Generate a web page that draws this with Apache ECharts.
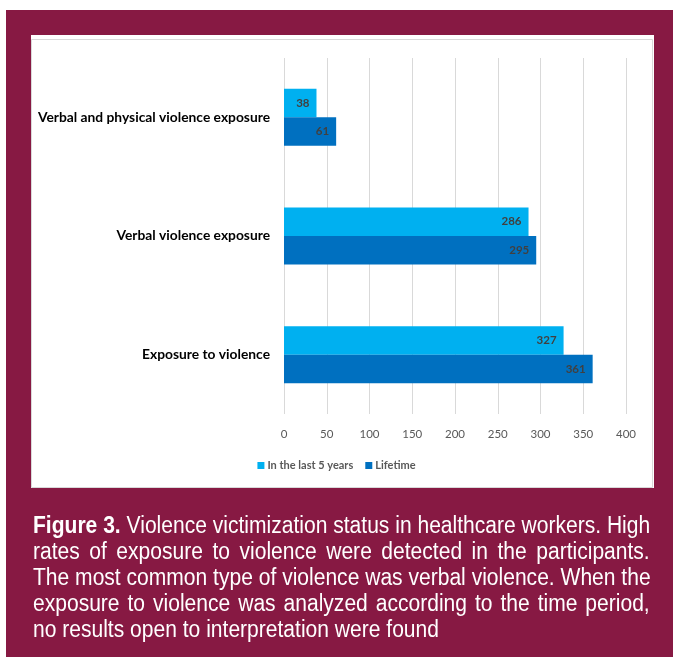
<!DOCTYPE html>
<html>
<head>
<meta charset="utf-8">
<script src="https://cdn.jsdelivr.net/npm/echarts@6/dist/echarts.min.js"></script>
<style>
  html, body { margin: 0; padding: 0; background: #ffffff; }
  #frame { position: absolute; left: 6px; top: 10px; width: 667px; height: 647px; background: #871943; }
  #panel { position: absolute; left: 31px; top: 35px; width: 623px; height: 453px; background: #ffffff; }
  #chart { position: absolute; left: 0; top: 0; width: 673px; height: 657px; }
  #caption {
    position: absolute; left: 33px; top: 512px; width: 674px;
    transform: scaleX(0.915); transform-origin: 0 0;
    color: #ffffff; font-family: "Liberation Sans", Arial, sans-serif;
    font-size: 23px; line-height: 26px;
  }
  #caption .ln { text-align: justify; text-align-last: justify; white-space: nowrap; }
  #caption .ln.last { text-align-last: left; }
  #caption b { font-weight: bold; }
</style>
</head>
<body>
<div id="frame"></div>
<div id="panel"></div>
<div id="chart"></div>
<div id="caption">
  <div class="ln"><b>Figure 3.</b> Violence victimization status in healthcare workers. High</div>
  <div class="ln">rates of exposure to violence were detected in the participants.</div>
  <div class="ln">The most common type of violence was verbal violence. When the</div>
  <div class="ln">exposure to violence was analyzed according to the time period,</div>
  <div class="ln last">no results open to interpretation were found</div>
</div>
<script>
// Categories listed bottom to top, as the category axis draws them
const categories = ['Exposure to violence', 'Verbal violence exposure', 'Verbal and physical violence exposure'];
const last5Years = [327, 286, 38];
const lifetime = [361, 295, 61];
const seriesNames = ['In the last 5 years', 'Lifetime'];
const xTicks = [0, 50, 100, 150, 200, 250, 300, 350, 400];

const chart = echarts.init(document.getElementById('chart'));
const labelStyle = {
  show: true, position: 'insideRight', distance: 7,
  color: '#404040', fontWeight: 'bold', fontSize: 11.5, fontFamily: 'Lato'
};
chart.setOption({
  animation: false,
  graphic: [{
    type: 'rect', shape: { x: 31.5, y: 39.5, width: 621, height: 448 },
    style: { fill: null, stroke: '#d9d9d9', lineWidth: 1 }, z: -1
  }],
  grid: { left: 284, right: 47, top: 58, bottom: 243 },
  legend: {
    data: seriesNames, bottom: 181, left: 'center',
    itemWidth: 7, itemHeight: 7, itemGap: 12, icon: 'rect',
    textStyle: { color: '#595959', fontSize: 11, fontWeight: 'bold', fontFamily: 'Lato', padding: [0, 0, 0, -2] }
  },
  xAxis: {
    type: 'value', min: xTicks[0], max: xTicks[xTicks.length - 1], interval: 50,
    axisLine: { show: false }, axisTick: { show: false },
    splitLine: { lineStyle: { color: '#d9d9d9' } },
    axisLabel: { color: '#595959', fontSize: 11.5, fontFamily: 'Lato', margin: 14 }
  },
  yAxis: {
    type: 'category', data: categories,
    axisLine: { show: false }, axisTick: { show: false },
    axisLabel: { color: '#000000', fontSize: 13.8, fontWeight: 'bold', fontFamily: 'Lato', margin: 14 }
  },
  series: [
    { name: seriesNames[0], type: 'bar', data: last5Years, barGap: '0%', barCategoryGap: '52%',
      itemStyle: { color: '#00b0f0' }, label: labelStyle },
    { name: seriesNames[1], type: 'bar', data: lifetime,
      itemStyle: { color: '#0070c0' }, label: labelStyle }
  ]
});
</script>
</body>
</html>
